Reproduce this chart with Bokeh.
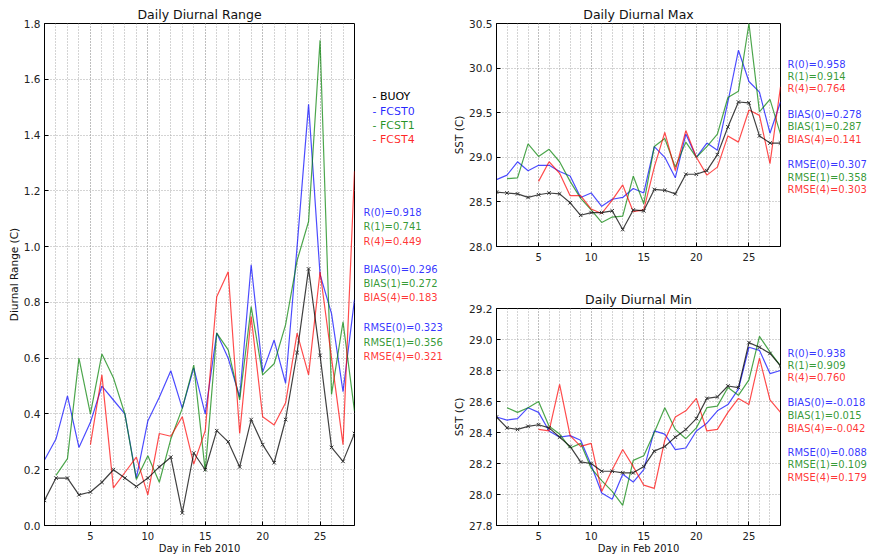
import numpy as np
from bokeh.plotting import figure
from bokeh.models import Range1d, FixedTicker, Label, PrintfTickFormatter
from bokeh.layouts import row, column
from bokeh.embed import file_html
from bokeh.resources import INLINE

nan = float("nan")
days = list(range(1, 29))
x_ticks = [5, 10, 15, 20, 25]

# ---- Daily diurnal range ----
range_buoy = [0.09, 0.17, 0.17, 0.11, 0.12, 0.155, 0.20, 0.17, 0.14, 0.17, 0.21, 0.245, 0.045, 0.26,
              0.20, 0.34, 0.30, 0.21, 0.38, 0.29, 0.225, 0.38, 0.62, 0.92, 0.61, 0.28, 0.23, 0.33]
range_fcst0 = [0.235, 0.31, 0.465, 0.28, 0.37, 0.50, 0.45, 0.40, 0.17, 0.375, 0.46, 0.555, 0.42, 0.565,
               0.40, 0.69, 0.60, 0.46, 0.935, 0.55, 0.665, 0.51, 1.00, 1.51, 0.90, 0.76, 0.48, 0.81]
range_fcst1 = [nan, 0.18, 0.24, 0.60, 0.40, 0.615, 0.53, 0.40, 0.165, 0.25, 0.155, 0.31, 0.42, 0.575,
               0.195, 0.69, 0.63, 0.45, 0.785, 0.54, 0.58, 0.72, 0.95, 1.09, 1.74, 0.47, 0.73, 0.41]
range_fcst4 = [nan, nan, nan, nan, 0.29, 0.54, 0.135, 0.19, 0.245, 0.11, 0.33, 0.32, 0.39, 0.22,
               0.34, 0.82, 0.91, 0.33, 0.75, 0.39, 0.36, 0.44, 0.69, 0.54, 0.91, 0.60, 0.29, 1.27]
range_yticks = [0.0, 0.2, 0.4, 0.6, 0.8, 1.0, 1.2, 1.4, 1.6, 1.8]

# ---- Daily diurnal max ----
max_buoy = [28.61, 28.60, 28.59, 28.55, 28.58, 28.60, 28.59, 28.49, 28.35, 28.38, 28.38, 28.40, 28.19, 28.41,
            28.40, 28.64, 28.63, 28.59, 28.81, 28.81, 28.85, 29.03, 29.34, 29.62, 29.61, 29.24, 29.16, 29.16]
max_fcst0 = [28.75, 28.80, 28.95, 28.85, 28.91, 28.91, 28.84, 28.79, 28.55, 28.60, 28.45, 28.53, 28.55, 28.65,
             28.60, 29.12, 29.00, 28.77, 29.26, 29.00, 29.16, 29.08, 29.62, 30.20, 29.85, 29.73, 29.27, 29.62]
max_fcst1 = [nan, 28.76, 28.77, 29.15, 29.01, 29.09, 28.95, 28.73, 28.54, 28.41, 28.27, 28.33, 28.34, 28.79,
             28.48, 29.12, 29.21, 28.89, 29.17, 29.00, 29.12, 29.26, 29.67, 29.74, 30.50, 29.51, 29.65, 29.26]
max_fcst4 = [nan, nan, nan, nan, 28.73, 28.95, 28.82, 28.57, 28.57, 28.42, 28.37, 28.52, 28.69, 28.39,
             28.41, 28.89, 29.28, 28.85, 29.30, 29.00, 28.80, 28.89, 29.24, 29.17, 29.53, 29.47, 28.93, 29.79]
max_yticks = [28.0, 28.5, 29.0, 29.5, 30.0, 30.5]

# ---- Daily diurnal min ----
min_buoy = [28.50, 28.43, 28.42, 28.44, 28.45, 28.43, 28.37, 28.31, 28.21, 28.20, 28.15, 28.15, 28.14, 28.14,
            28.18, 28.28, 28.31, 28.37, 28.42, 28.49, 28.62, 28.63, 28.70, 28.69, 28.98, 28.95, 28.91, 28.83]
min_fcst0 = [28.50, 28.48, 28.49, 28.56, 28.53, 28.41, 28.37, 28.38, 28.35, 28.19, 28.01, 27.97, 28.13, 28.08,
             28.16, 28.41, 28.39, 28.29, 28.30, 28.41, 28.46, 28.54, 28.58, 28.68, 28.95, 28.93, 28.78, 28.80]
min_fcst1 = [nan, 28.56, 28.53, 28.56, 28.60, 28.44, 28.39, 28.30, 28.33, 28.17, 28.09, 28.02, 27.93, 28.22,
             28.25, 28.40, 28.56, 28.42, 28.36, 28.43, 28.56, 28.57, 28.69, 28.64, 28.74, 29.02, 28.92, 28.83]
min_fcst4 = [nan, nan, nan, nan, 28.42, 28.41, 28.71, 28.38, 28.31, 28.33, 28.02, 28.16, 28.29, 28.18,
             28.06, 28.04, 28.35, 28.50, 28.54, 28.62, 28.41, 28.42, 28.53, 28.62, 28.58, 28.88, 28.61, 28.53]
min_yticks = [27.8, 28.0, 28.2, 28.4, 28.6, 28.8, 29.0, 29.2]

# ---- statistics ----
fcst_ids = ["0", "1", "4"]
range_R = [0.918, 0.741, 0.449]
range_BIAS = [0.296, 0.272, 0.183]
range_RMSE = [0.323, 0.356, 0.321]
max_R = [0.958, 0.914, 0.764]
max_BIAS = [0.278, 0.287, 0.141]
max_RMSE = [0.307, 0.358, 0.303]
min_R = [0.938, 0.909, 0.760]
min_BIAS = [-0.018, 0.015, -0.042]
min_RMSE = [0.088, 0.109, 0.179]
legend_names = ["BUOY", "FCST0", "FCST1", "FCST4"]

FONT = "DejaVu Sans"
C_BUOY = "#000000"
C_F = ["#0000ff", "#008000", "#ff0000"]
GRID = "#a8a8a8"


def make_fig(w, h, bl, br, bt, bb, y0, y1, yticks, title, ylabel, xlabel=None):
    p = figure(width=w, height=h, x_range=Range1d(1, 28), y_range=Range1d(y0, y1),
               output_backend="svg", toolbar_location=None,
               min_border_left=bl, min_border_right=br, min_border_top=bt, min_border_bottom=bb)
    p.title.text = title
    p.title.align = "center"
    p.title.text_font = FONT
    p.title.text_font_size = "12.5px"
    p.title.text_font_style = "normal"
    p.title.text_color = "#111111"
    p.title.standoff = 3
    xt = FixedTicker(ticks=x_ticks, minor_ticks=days)
    yt = FixedTicker(ticks=yticks, minor_ticks=[])
    p.xaxis.ticker = xt
    p.yaxis.ticker = yt
    p.xgrid.ticker = xt
    p.ygrid.ticker = yt
    p.yaxis.formatter = PrintfTickFormatter(format="%.1f")
    for g in (p.xgrid, p.ygrid):
        g.grid_line_color = GRID
        g.grid_line_dash = "1 2"
        g.grid_line_width = 1
    p.xgrid.minor_grid_line_color = GRID
    p.xgrid.minor_grid_line_dash = "1 2"
    for ax in (p.xaxis, p.yaxis):
        ax.major_tick_in = 4
        ax.major_tick_out = 0
        ax.minor_tick_line_color = None
        ax.axis_line_color = "black"
        ax.major_tick_line_color = "black"
        ax.major_label_text_font = FONT
        ax.major_label_text_font_size = "10.5px"
        ax.major_label_text_color = "#222222"
        ax.major_label_standoff = 4
        ax.axis_label_text_font = FONT
        ax.axis_label_text_font_size = "10.5px"
        ax.axis_label_text_font_style = "normal"
        ax.axis_label_text_color = "#111111"
        ax.axis_label_standoff = 1
    p.xaxis.major_label_text_font_size = "10px"
    p.xaxis.major_label_standoff = 2
    p.xaxis.axis_label_text_font_size = "10px"
    p.xaxis.axis_label_standoff = 0
    p.yaxis.axis_label = ylabel
    if xlabel:
        p.xaxis.axis_label = xlabel
    p.outline_line_color = "black"
    p.outline_line_width = 1
    p.background_fill_color = "white"
    p.border_fill_color = "white"
    return p


def text_fig(w, h):
    t = figure(width=w, height=h, x_range=Range1d(0, w), y_range=Range1d(0, h),
               x_axis_type=None, y_axis_type=None, output_backend="svg", toolbar_location=None,
               min_border=0)
    t.outline_line_color = None
    t.background_fill_color = "white"
    t.border_fill_color = "white"
    return t


def lab(t, x, y, text, color="#000000", size="10px", alpha=1.0):
    t.add_layout(Label(x=x, y=y, text=text, text_color=color, text_alpha=alpha,
                       text_font=FONT, text_font_size=size, text_align="left", text_baseline="middle"))


def draw(p, buoy, f0, f1, f4):
    for ys, c in zip([f0, f1, f4], C_F):
        p.line(days, np.array(ys, dtype=float), line_color=c, line_width=1.2, line_alpha=0.7)
    p.line(days, np.array(buoy, dtype=float), line_color=C_BUOY, line_width=1.2, line_alpha=0.75)
    p.scatter(days, np.array(buoy, dtype=float), marker="x", size=5, line_color="#333333", line_width=1)


def stats(t, x, page_bottom, refs, R, B, E):
    rows = []
    for name, vals in (("R", R), ("BIAS", B), ("RMSE", E)):
        for fid, v, c in zip(fcst_ids, vals, C_F):
            rows.append((f"{name}({fid})={v:.3f}", c))
    for (txt, c), ry in zip(rows, refs):
        lab(t, x, page_bottom - ry, txt, color=c, alpha=0.8)


H = 556
# ---------- left: range ----------
pl = make_fig(355, H, 44, 1, 23, 26, 0.0, 1.8, range_yticks,
              "Daily Diurnal Range", "Diurnal Range (C)", "Day in Feb 2010")
draw(pl, range_buoy, range_fcst0, range_fcst1, range_fcst4)
tl = text_fig(95, H)            # page x 355..450, page y 0..556
for name, c, ry in zip(legend_names, [C_BUOY] + C_F, [81, 97, 113, 129]):
    lab(tl, 17, H - ry, "- " + name, color=c, size="11px", alpha=1.0 if c == C_BUOY else 0.85)
stats(tl, 8, H, [209, 225, 241, 273, 288, 304, 337, 353, 369], range_R, range_BIAS, range_RMSE)

# ---------- top right: max ----------
pt = make_fig(331, 280, 37, 1, 23, 34, 28.0, 30.5, max_yticks, "Daily Diurnal Max", "SST (C)")
draw(pt, max_buoy, max_fcst0, max_fcst1, max_fcst4)
tt = text_fig(90, 280)          # page x 781..871, page y 0..280
stats(tt, 6, 280, [51, 66, 82, 114, 129, 146, 177, 193, 209], max_R, max_BIAS, max_RMSE)

# ---------- bottom right: min ----------
pm = make_fig(331, H - 280, 37, 1, 28, 26, 27.8, 29.2, min_yticks,
              "Daily Diurnal Min", "SST (C)", "Day in Feb 2010")
draw(pm, min_buoy, min_fcst0, min_fcst1, min_fcst4)
tm = text_fig(90, H - 280)      # page x 781..871, page y 280..556
stats(tm, 6, H, [337, 353, 368, 400, 416, 432, 463, 479, 495], min_R, min_BIAS, min_RMSE)

layout = row(pl, tl, column(row(pt, tt), row(pm, tm)))
open("out.html", "w").write(file_html(layout, INLINE))
